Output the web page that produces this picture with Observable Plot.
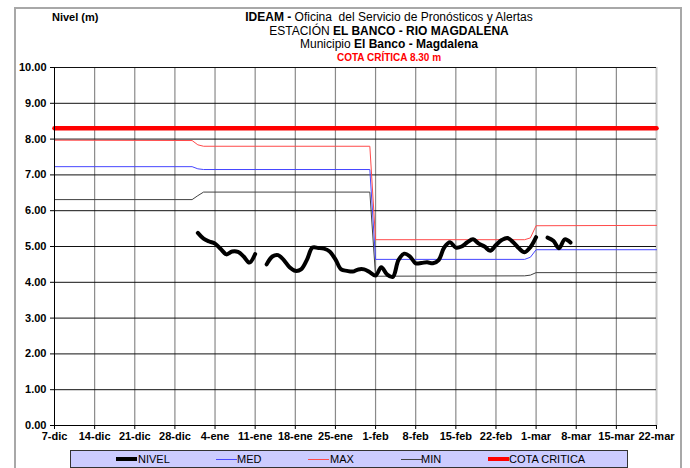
<!DOCTYPE html>
<html><head><meta charset="utf-8">
<script src="https://cdn.jsdelivr.net/npm/d3@7"></script>
<script src="https://cdn.jsdelivr.net/npm/@observablehq/plot@0.6"></script>
<style>
body{margin:0;background:#fff;overflow:hidden;font-family:"Liberation Sans",Arial,sans-serif;}
#wrap{position:relative;width:690px;height:468px;overflow:hidden;background:#fff;}
#frame{position:absolute;left:14px;top:7px;width:668px;height:480px;border:2px solid #a8a8a8;box-sizing:border-box;}
#chart{position:absolute;left:0;top:0;}
#chart svg text{font-weight:bold;fill:#000;}
.tl{position:absolute;left:189px;width:400px;text-align:center;font-size:12px;line-height:13px;color:#000;white-space:nowrap;}
#ylab{position:absolute;left:52px;top:11px;font-size:11px;font-weight:bold;}
#legend{position:absolute;left:70px;top:450px;width:558px;height:18px;background:#ccccff;border:1px solid #333;box-sizing:border-box;}
.li{position:absolute;top:2px;font-size:11px;line-height:13px;white-space:nowrap;}
.sw{position:absolute;}
</style>
</head><body>
<div id="wrap">
<div id="frame"></div>
<div id="chart"></div>
<div id="ylab">Nivel (m)</div>
<div class="tl" style="top:11px"><b>IDEAM -</b> Oficina&nbsp; del Servicio de Pronósticos y Alertas</div>
<div class="tl" style="top:25px">ESTACIÓN <b>EL BANCO - RIO MAGDALENA</b></div>
<div class="tl" style="top:38px">Municipio <b>El Banco - Magdalena</b></div>
<div class="tl" style="top:51px;font-size:10px;font-weight:bold;color:#ff0000">COTA CRÍTICA 8.30 m</div>
<div id="legend"></div>
</div>
<script>
// ---- data ----
const xTickDates = ["2018-12-07","2018-12-14","2018-12-21","2018-12-28","2019-01-04","2019-01-11","2019-01-18","2019-01-25","2019-02-01","2019-02-08","2019-02-15","2019-02-22","2019-03-01","2019-03-08","2019-03-15","2019-03-22"];
const xTickLabels = ["7-dic","14-dic","21-dic","28-dic","4-ene","11-ene","18-ene","25-ene","1-feb","8-feb","15-feb","22-feb","1-mar","8-mar","15-mar","22-mar"];
const yTicks = [0,1,2,3,4,5,6,7,8,9,10];

const cotaDates = ["2018-12-07","2019-03-22"];
const cotaValues = [8.30, 8.30];

const maxDates = ["2018-12-07","2018-12-31","2019-01-01","2019-01-02","2019-01-31","2019-02-01","2019-02-27","2019-02-28","2019-03-01","2019-03-22"];
const maxValues = [7.97, 7.96, 7.84, 7.80, 7.80, 5.19, 5.19, 5.24, 5.58, 5.59];

const medDates = ["2018-12-07","2018-12-31","2019-01-01","2019-01-02","2019-01-31","2019-02-01","2019-02-27","2019-02-28","2019-03-01","2019-03-22"];
const medValues = [7.23, 7.23, 7.17, 7.15, 7.15, 4.64, 4.64, 4.70, 4.91, 4.91];

const minDates = ["2018-12-07","2018-12-31","2019-01-01","2019-01-02","2019-01-31","2019-02-01","2019-02-27","2019-02-28","2019-03-01","2019-03-22"];
const minValues = [6.31, 6.31, 6.42, 6.52, 6.52, 4.17, 4.18, 4.20, 4.27, 4.27];

// daily NIVEL from 2019-01-01; null = no data
const nivelStart = "2019-01-01";
const nivelValues = [
 5.38,5.22,5.14,5.08,4.93,4.78,4.86,4.85,4.72,4.55,4.79,
 null,
 4.50,4.72,4.76,4.62,4.42,4.32,4.36,4.62,4.97,4.96,4.94,4.86,4.64,4.36,4.32,4.30,4.36,4.36,4.28,4.19,
 4.42,4.22,4.15,4.62,4.80,4.72,4.53,4.54,4.56,4.53,4.62,4.98,5.12,4.97,5.00,5.12,5.20,5.08,5.00,4.88,
 5.04,5.18,5.24,5.12,4.95,4.84,4.98,5.26,
 null,
 5.25,5.16,4.95,5.20,5.11
];

// ---- build ----
const P = (dates, values) => dates.map((d,i)=>({date:new Date(d), v:values[i]}));
const xt = xTickDates.map(d=>new Date(d));
const labelMap = new Map(xt.map((d,i)=>[+d, xTickLabels[i]]));
const n0 = new Date(nivelStart);
const nivel = nivelValues.map((v,i)=>({date:d3.utcDay.offset(n0,i), v}));

const chart = Plot.plot({
  width:690, height:468,
  marginLeft:54, marginRight:34, marginTop:67, marginBottom:43,
  style:{fontFamily:"Liberation Sans, Arial, sans-serif", fontSize:"11px", background:"transparent", overflow:"visible"},
  x:{type:"utc", domain:[xt[0], xt[xt.length-1]]},
  y:{domain:[0,10]},
  marks:[
    Plot.ruleX(xt.slice(1,-1), {stroke:"#8a8a8a", strokeWidth:1.2}),
    Plot.ruleX([xt[xt.length-1]], {stroke:"#c8c8c8", strokeWidth:2}),
    Plot.ruleY(yTicks.slice(1), {stroke:"#111", strokeWidth:1}),
    Plot.line(P(minDates,minValues), {x:"date", y:"v", stroke:"#404040", strokeWidth:1}),
    Plot.line(P(medDates,medValues), {x:"date", y:"v", stroke:"#4646ff", strokeWidth:1}),
    Plot.line(P(maxDates,maxValues), {x:"date", y:"v", stroke:"#ff4a4a", strokeWidth:1}),
    Plot.line(P(cotaDates,cotaValues), {x:"date", y:"v", stroke:"#ff0000", strokeWidth:4.5}),
    Plot.line(nivel, {x:"date", y:"v", stroke:"#000", strokeWidth:4, curve:"catmull-rom", strokeLinecap:"round", strokeLinejoin:"round"}),
    Plot.ruleX([xt[0]], {stroke:"#000", strokeWidth:1}),
    Plot.ruleY([0], {stroke:"#000", strokeWidth:1}),
    Plot.axisX({ticks:xt, tickFormat:d=>labelMap.get(+d), tickSize:4, tickPadding:3, label:null, stroke:"#000"}),
    Plot.axisY({ticks:yTicks, tickFormat:d=>d.toFixed(2), tickSize:4, tickPadding:4, label:null, stroke:"#000"})
  ]
});
document.getElementById("chart").appendChild(chart);

// legend
const legendItems = [
  {name:"NIVEL", color:"#000", w:4, x:45, tx:67},
  {name:"MED", color:"#4646ff", w:1, x:145, tx:166},
  {name:"MAX", color:"#ff4a4a", w:1, x:237, tx:259},
  {name:"MIN", color:"#404040", w:1, x:330, tx:350},
  {name:"COTA CRITICA", color:"#ff0000", w:4, x:417, tx:438}
];
const lg = document.getElementById("legend");
legendItems.forEach(it=>{
  const s=document.createElement("div");
  s.className="sw";
  s.style.left=it.x+"px"; s.style.width="21px"; s.style.height=it.w+"px";
  s.style.top=(8-it.w/2)+"px"; s.style.background=it.color;
  lg.appendChild(s);
  const t=document.createElement("div");
  t.className="li"; t.style.left=it.tx+"px"; t.textContent=it.name;
  lg.appendChild(t);
});
</script>
</body></html>
